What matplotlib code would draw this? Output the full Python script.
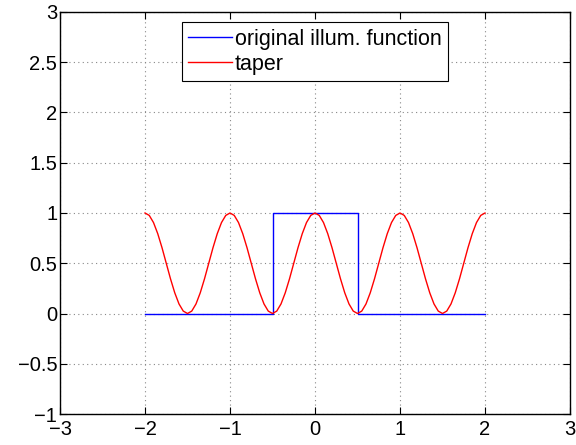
import numpy as np
import matplotlib
matplotlib.use("Agg")
import matplotlib.pyplot as plt

plt.rcParams['font.family'] = ['Liberation Sans', 'DejaVu Sans']

# original illumination function (rect)
illum_x = [-2.0, -0.5, -0.5, 0.5, 0.5, 2.0]
illum_y = [0.0, 0.0, 1.0, 1.0, 0.0, 0.0]

# taper, read at 0.05 steps from -2 to 2
taper_x = np.linspace(-2, 2, 81)
taper_y = [
    1.000, 0.976, 0.905, 0.794, 0.655, 0.500, 0.345, 0.206, 0.095, 0.024,
    0.000, 0.024, 0.095, 0.206, 0.345, 0.500, 0.655, 0.794, 0.905, 0.976,
    1.000, 0.976, 0.905, 0.794, 0.655, 0.500, 0.345, 0.206, 0.095, 0.024,
    0.000, 0.024, 0.095, 0.206, 0.345, 0.500, 0.655, 0.794, 0.905, 0.976,
    1.000, 0.976, 0.905, 0.794, 0.655, 0.500, 0.345, 0.206, 0.095, 0.024,
    0.000, 0.024, 0.095, 0.206, 0.345, 0.500, 0.655, 0.794, 0.905, 0.976,
    1.000, 0.976, 0.905, 0.794, 0.655, 0.500, 0.345, 0.206, 0.095, 0.024,
    0.000, 0.024, 0.095, 0.206, 0.345, 0.500, 0.655, 0.794, 0.905, 0.976,
    1.000,
]

xticks = [-3, -2, -1, 0, 1, 2, 3]
yticks = [-1, -0.5, 0, 0.5, 1, 1.5, 2, 2.5, 3]
yticklabels = ['\u22121', '\u22120.5', '0', '0.5', '1', '1.5', '2', '2.5', '3']

fig = plt.figure(figsize=(5.76, 4.45), dpi=100)
ax = fig.add_axes([60/576, 31/445, 510/576, 402/445])

ax.plot(illum_x, illum_y, color='blue', linewidth=1.0, label='original illum. function')
ax.plot(taper_x, taper_y, color='red', linewidth=1.0, label='taper')

ax.set_xlim(-3, 3)
ax.set_ylim(-1, 3)
ax.set_xticks(xticks)
ax.set_yticks(yticks)
ax.set_yticklabels(yticklabels)
ax.tick_params(direction='in', length=5, width=0.8, top=True, right=True,
               labelsize=14.5, colors='black')
ax.tick_params(axis='x', pad=4)
ax.tick_params(axis='y', pad=2)
ax.grid(True, linestyle=(0, (1, 3)), color='#888888', linewidth=0.8)
for s in ax.spines.values():
    s.set_linewidth(1.0)

leg = ax.legend(loc='upper center', bbox_to_anchor=(0.5, 0.975), fontsize=15.5,
                fancybox=False, framealpha=1, edgecolor='black',
                handlelength=2.0, handletextpad=0.15, borderpad=0.3,
                labelspacing=0.2, borderaxespad=0)
leg.get_frame().set_linewidth(0.8)

fig.savefig('out.png', dpi=100)
